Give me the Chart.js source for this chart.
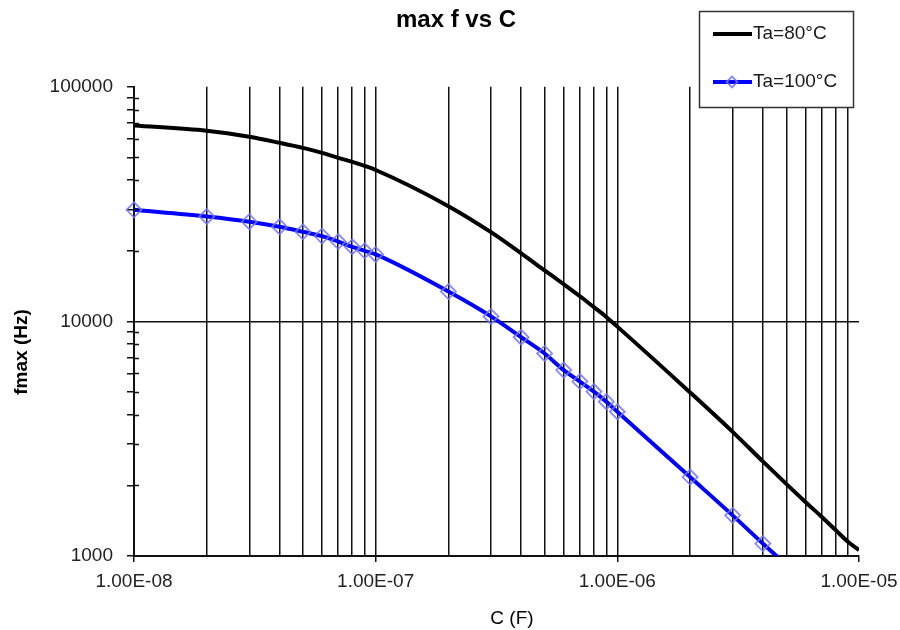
<!DOCTYPE html>
<html>
<head>
<meta charset="utf-8">
<title>max f vs C</title>
<script src="https://cdn.jsdelivr.net/npm/chart.js@4/dist/chart.umd.min.js"></script>
<style>
  html, body { margin: 0; padding: 0; background: #fff; }
  #wrap { width: 900px; height: 630px; }
</style>
</head>
<body>
<div id="wrap"><canvas id="grafico" width="900" height="630"></canvas></div>
<script>
// ============================================================
//  max f vs C — curvas fmax x capacitância (escala log-log)
// ============================================================

// capacitâncias (F) — também são as linhas verticais da grade
var capacitancias = [
  1e-8, 2e-8, 3e-8, 4e-8, 5e-8, 6e-8, 7e-8, 8e-8, 9e-8,
  1e-7, 2e-7, 3e-7, 4e-7, 5e-7, 6e-7, 7e-7, 8e-7, 9e-7,
  1e-6, 2e-6, 3e-6, 4e-6, 5e-6, 6e-6, 7e-6, 8e-6, 9e-6,
  1e-5
];

// fmax (Hz) a Ta=80°C
var fmax80 = [
  68400, 64900, 61200, 57700, 54900, 52300, 49800, 47900, 46000,
  44200, 31000, 24000, 19500, 16500, 14400, 12800, 11500, 10450,
  9500, 4980, 3380, 2530, 2030, 1700, 1470, 1290, 1150,
  1060
];

// fmax (Hz) a Ta=100°C (o último ponto fica abaixo do eixo)
var fmax100 = [
  29900, 28000, 26600, 25300, 24100, 23100, 21900, 20800, 20000,
  19300, 13400, 10500, 8560, 7300, 6200, 5540, 5020, 4550,
  4120, 2170, 1490, 1130, 917
];

var serieLabels = ['Ta=80°C', 'Ta=100°C'];

// marcas do eixo Y (só as décadas levam texto)
var yMarcas = [
  1000, 2000, 3000, 4000, 5000, 6000, 7000, 8000, 9000,
  10000, 20000, 30000, 40000, 50000, 60000, 70000, 80000, 90000,
  100000
];
var xDecadas = [1e-8, 1e-7, 1e-6, 1e-5];
var xTickLabels = ['1.00E-08', '1.00E-07', '1.00E-06', '1.00E-05'];
var yDecadas = [1000, 10000, 100000];
var yTickLabels = ['1000', '10000', '100000'];

var FONTE = '"Liberation Sans", Arial, sans-serif';

function idxDecada(v, decadas) {
  for (var i = 0; i < decadas.length; i++) {
    if (Math.abs(Math.log10(v) - Math.log10(decadas[i])) < 1e-6) return i;
  }
  return -1;
}

function pontos(xs, ys) {
  return ys.map(function (y, i) { return { x: xs[i], y: y }; });
}

// títulos dos eixos, tracinhos menores do eixo Y e legenda em caixa
var extras = {
  id: 'extras',
  afterDraw: function (chart) {
    var ctx = chart.ctx;
    var area = chart.chartArea;
    var yScale = chart.scales.y;

    ctx.save();
    // tracinhos menores cruzando o eixo Y
    ctx.strokeStyle = '#111';
    ctx.lineWidth = 1.5;
    yMarcas.forEach(function (v) {
      if (idxDecada(v, yDecadas) >= 0) return;
      var py = Math.round(yScale.getPixelForValue(v)) + 0.5;
      ctx.beginPath();
      ctx.moveTo(area.left, py);
      ctx.lineTo(area.left + 5, py);
      ctx.stroke();
    });

    // títulos dos eixos
    ctx.fillStyle = '#000';
    ctx.textAlign = 'center';
    ctx.textBaseline = 'middle';
    ctx.font = 'bold 19px ' + FONTE;
    ctx.save();
    ctx.translate(22, 352);
    ctx.rotate(-Math.PI / 2);
    ctx.fillText('fmax (Hz)', 0, 0);
    ctx.restore();
    ctx.font = '19px ' + FONTE;
    ctx.fillText('C (F)', 512, 619);

    // legenda
    var bx = 699, by = 11, bw = 154, bh = 96;
    ctx.fillStyle = '#fff';
    ctx.fillRect(bx, by, bw, bh);
    ctx.strokeStyle = '#333';
    ctx.lineWidth = 1.5;
    ctx.strokeRect(bx + 0.5, by + 0.5, bw, bh);

    var linhasY = [34, 82];
    chart.data.datasets.forEach(function (ds, i) {
      var ly = linhasY[i];
      ctx.strokeStyle = ds.borderColor;
      ctx.lineWidth = ds.borderWidth;
      ctx.beginPath();
      ctx.moveTo(713, ly);
      ctx.lineTo(752, ly);
      ctx.stroke();
      if (ds.pointRadius > 0) {
        ctx.fillStyle = 'rgba(0,0,0,0)';
        ctx.strokeStyle = ds.pointBorderColor;
        ctx.lineWidth = ds.pointBorderWidth;
        Chart.helpers.drawPoint(ctx, {
          pointStyle: ds.pointStyle,
          radius: 5.5,
          borderWidth: ds.pointBorderWidth,
          rotation: 0
        }, 732, ly);
      }
      ctx.fillStyle = '#1a1a1a';
      ctx.textAlign = 'left';
      ctx.font = '19px ' + FONTE;
      ctx.fillText(ds.label, 753, ly);
    });
    ctx.restore();
  }
};

new Chart(document.getElementById('grafico'), {
  type: 'line',
  data: {
    datasets: [{
      label: serieLabels[0],
      data: pontos(capacitancias, fmax80),
      borderColor: '#000',
      borderWidth: 4,
      pointRadius: 0,
      cubicInterpolationMode: 'monotone',
      fill: false
    }, {
      label: serieLabels[1],
      data: pontos(capacitancias, fmax100),
      borderColor: '#0000ff',
      borderWidth: 4,
      pointStyle: 'rectRot',
      pointRadius: 7.5,
      pointBorderWidth: 1.8,
      pointBorderColor: 'rgba(115,115,255,0.85)',
      pointBackgroundColor: 'rgba(0,0,0,0)',
      cubicInterpolationMode: 'monotone',
      clip: { left: 10, top: 10, right: 10, bottom: 0 },
      fill: false
    }]
  },
  options: {
    responsive: false,
    animation: false,
    devicePixelRatio: 1,
    layout: { padding: { left: 12, right: 0, top: 0, bottom: 0 } },
    plugins: {
      legend: { display: false },
      title: {
        display: true,
        text: 'max f vs C',
        color: '#000',
        font: { family: FONTE, size: 24, weight: 'bold' },
        padding: { top: 6, bottom: 52 }
      },
      tooltip: { enabled: true }
    },
    scales: {
      x: {
        type: 'logarithmic',
        min: 1e-8,
        max: 1e-5,
        afterBuildTicks: function (s) {
          s.ticks = capacitancias.map(function (v) { return { value: v }; });
        },
        afterFit: function (s) {
          s.height = 74;
          s.paddingLeft = 0;
          s.paddingRight = 41;
        },
        ticks: {
          autoSkip: false,
          maxRotation: 0,
          minRotation: 0,
          padding: 8,
          color: '#222',
          font: { family: FONTE, size: 19 },
          callback: function (v) {
            var i = idxDecada(v, xDecadas);
            return i >= 0 ? xTickLabels[i] : '';
          }
        },
        grid: {
          lineWidth: 1.5,
          tickLength: 6,
          color: function (c) {
            return c.tick && c.tick.value >= 1e-5 * 0.999 ? 'rgba(0,0,0,0)' : '#111';
          },
          tickColor: function (c) {
            return c.tick && idxDecada(c.tick.value, xDecadas) >= 0 ? '#111' : 'rgba(0,0,0,0)';
          }
        },
        border: { color: '#111', width: 2 }
      },
      y: {
        type: 'logarithmic',
        min: 1000,
        max: 100000,
        afterBuildTicks: function (s) {
          s.ticks = yMarcas.map(function (v) { return { value: v }; });
        },
        afterFit: function (s) { s.width = 122; },
        ticks: {
          autoSkip: false,
          padding: 14,
          color: '#222',
          font: { family: FONTE, size: 19 },
          callback: function (v) {
            var i = idxDecada(v, yDecadas);
            return i >= 0 ? yTickLabels[i] : '';
          }
        },
        grid: {
          lineWidth: 1.5,
          tickLength: 7,
          color: function (c) {
            return c.tick && c.tick.value === 10000 ? '#111' : 'rgba(0,0,0,0)';
          },
          tickColor: '#111'
        },
        border: { color: '#111', width: 2 }
      }
    }
  },
  plugins: [extras]
});
</script>
</body>
</html>
